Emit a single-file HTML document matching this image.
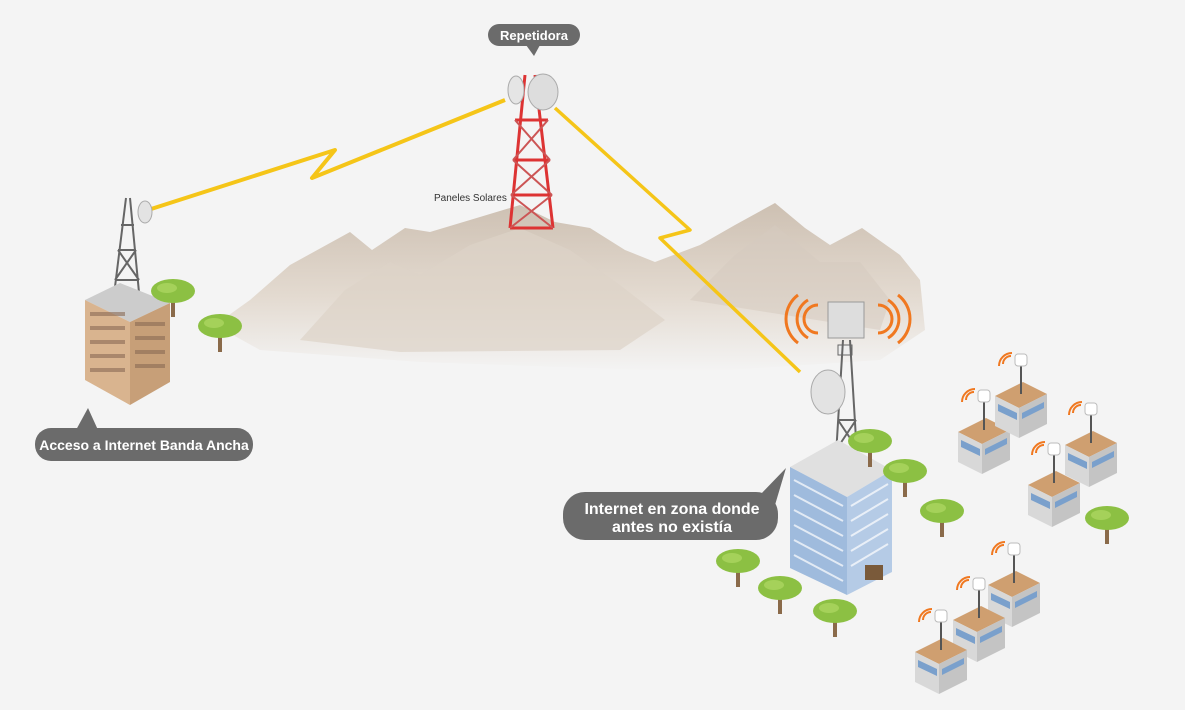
<!DOCTYPE html>
<html><head><meta charset="utf-8"><style>
html,body{margin:0;padding:0;background:#f4f4f4;}
svg{display:block;font-family:"Liberation Sans",sans-serif;}
</style></head><body>
<svg width="1185" height="710" viewBox="0 0 1185 710" xmlns="http://www.w3.org/2000/svg">
<defs>
<linearGradient id="mt" x1="0" y1="0" x2="0" y2="1">
<stop offset="0" stop-color="#cdc0b2"/><stop offset="0.55" stop-color="#e3dad0"/><stop offset="1" stop-color="#f4f4f4"/>
</linearGradient>
<g id="tree">
<path d="M0,0 L0,22" stroke="#8a6a4a" stroke-width="4"/>
<ellipse cx="0" cy="-4" rx="22" ry="12" fill="#8cc043"/>
<ellipse cx="-6" cy="-7" rx="10" ry="5" fill="#a5d15a"/>
</g>
<g id="sb">
<path d="M0,20 L28,6 L52,18 L24,32 Z" fill="#cf9f70"/>
<path d="M0,20 L24,32 L24,62 L0,50 Z" fill="#d8d8d8"/>
<path d="M24,32 L52,18 L52,48 L24,62 Z" fill="#c4c4c4"/>
<path d="M3,28 L22,37 L22,44 L3,35 Z" fill="#7aa0cc"/>
<path d="M27,37 L49,26 L49,32 L27,43 Z" fill="#7aa0cc"/>
<path d="M26,-12 L26,18" stroke="#555" stroke-width="2"/>
<rect x="20" y="-22" width="12" height="12" rx="3" fill="#fff" stroke="#bbb"/>
<path d="M8,-12 a8,8 0 0 1 8,-8 M4,-10 a13,13 0 0 1 13,-13" stroke="#f07820" stroke-width="2" fill="none"/>
</g>
</defs>
<rect width="1185" height="710" fill="#f4f4f4"/>
<!-- mountains -->
<path d="M215,325 L250,300 L290,265 L350,232 L372,250 L405,228 L430,232 L470,220 L520,205 L555,222 L590,228 L625,250 L655,262 L700,245 L735,225 L775,203 L805,228 L830,245 L862,228 L900,255 L920,280 L925,330 L880,360 L700,372 L420,362 L260,350 Z" fill="url(#mt)"/>
<path d="M300,340 L345,290 L390,262 L420,275 L470,245 L520,228 L570,250 L620,285 L665,320 L620,350 L400,352 Z" fill="#ddd3c8" opacity="0.7"/>
<path d="M690,300 L735,255 L775,225 L820,262 L860,262 L890,300 L880,330 Z" fill="#d6cbc0" opacity="0.55"/>
<!-- lightning -->
<polyline points="148,210 335,150 312,178 505,100" fill="none" stroke="#f5c518" stroke-width="4" stroke-linejoin="round"/>
<polyline points="555,108 690,230 660,238 800,372" fill="none" stroke="#f5c518" stroke-width="3.5" stroke-linejoin="round"/>
<!-- red tower -->
<g stroke-width="3" fill="none">
<path d="M525,75 L510,228 M535,75 L553,228" stroke="#d33"/>
<path d="M515,120 L548,120 M513,160 L550,160 M511,195 L552,195 M510,228 L553,228" stroke="#d33"/>
<path d="M515,120 L550,160 M548,120 L513,160 M511,195 L553,228 M552,195 L510,228 M513,160 L552,195 M550,160 L511,195" stroke="#c55" stroke-width="2"/>
</g>
<ellipse cx="543" cy="92" rx="15" ry="18" fill="#ddd" stroke="#aaa"/>
<ellipse cx="516" cy="90" rx="8" ry="14" fill="#e5e5e5" stroke="#aaa"/>
<text x="434" y="201" font-size="10" fill="#333">Paneles Solares</text>
<!-- Repetidora bubble -->
<rect x="488" y="24" width="92" height="22" rx="11" fill="#6b6b6b"/>
<path d="M526,45 L534,56 L540,45 Z" fill="#6b6b6b"/>
<text x="534" y="40" font-size="13" font-weight="bold" fill="#fff" text-anchor="middle">Repetidora</text>
<!-- left tower -->
<g stroke="#666" stroke-width="2" fill="none">
<path d="M126,198 L113,303 M130,198 L140,303 M118,250 L136,250 M115,280 L139,280 M118,250 L139,280 M136,250 L115,280 M121,225 L134,225"/>
</g>
<ellipse cx="145" cy="212" rx="7" ry="11" fill="#e3e3e3" stroke="#aaa"/>
<!-- left building -->
<path d="M85,300 L120,283 L170,303 L130,322 Z" fill="#ccc"/>
<path d="M85,300 L130,322 L130,405 L85,380 Z" fill="#d9b48f"/>
<path d="M130,322 L170,303 L170,382 L130,405 Z" fill="#c79f78"/>
<g fill="#8a6a55" opacity="0.6">
<rect x="90" y="312" width="35" height="4"/><rect x="90" y="326" width="35" height="4"/><rect x="90" y="340" width="35" height="4"/><rect x="90" y="354" width="35" height="4"/><rect x="90" y="368" width="35" height="4"/>
<rect x="135" y="322" width="30" height="4"/><rect x="135" y="336" width="30" height="4"/><rect x="135" y="350" width="30" height="4"/><rect x="135" y="364" width="30" height="4"/>
</g>
<use href="#tree" x="173" y="295"/>
<use href="#tree" x="220" y="330"/>
<!-- left bubble -->
<rect x="35" y="428" width="218" height="33" rx="16" fill="#6b6b6b"/>
<path d="M76,430 L88,408 L98,430 Z" fill="#6b6b6b"/>
<text x="144" y="450" font-size="14" font-weight="bold" fill="#fff" text-anchor="middle">Acceso a Internet Banda Ancha</text>
<!-- orange arcs -->
<g stroke="#f07820" stroke-width="3" fill="none">
<path d="M818,305 a14,14 0 0 0 0,28 M808,300 a22,22 0 0 0 0,38 M798,295 a30,30 0 0 0 0,48"/>
<path d="M878,305 a14,14 0 0 1 0,28 M888,300 a22,22 0 0 1 0,38 M898,295 a30,30 0 0 1 0,48"/>
</g>
<!-- blue building tower -->
<rect x="828" y="302" width="36" height="36" fill="#ddd" stroke="#999"/>
<rect x="838" y="345" width="14" height="10" fill="#eee" stroke="#666"/>
<g stroke="#666" stroke-width="2" fill="none">
<path d="M843,340 L835,472 M850,340 L858,472 M838,420 L856,420 M836,450 L858,450 M838,420 L858,450 M856,420 L836,450"/>
</g>
<ellipse cx="828" cy="392" rx="17" ry="22" fill="#e3e3e3" stroke="#aaa"/>
<!-- blue building -->
<path d="M790,467 L838,440 L892,470 L847,497 Z" fill="#e0e0e0"/>
<path d="M790,467 L847,497 L847,595 L790,568 Z" fill="#9fbbdd"/>
<path d="M847,497 L892,470 L892,572 L847,595 Z" fill="#b5cbe6"/>
<g stroke="#fff" stroke-width="2" opacity="0.7">
<path d="M794,480 L843,506 M794,495 L843,521 M794,510 L843,536 M794,525 L843,551 M794,540 L843,566 M794,555 L843,581"/>
<path d="M851,506 L888,484 M851,521 L888,499 M851,536 L888,514 M851,551 L888,529 M851,566 L888,544"/>
</g>
<rect x="865" y="565" width="18" height="15" fill="#7a5a3a"/>
<!-- trees right -->
<use href="#tree" x="870" y="445"/>
<use href="#tree" x="905" y="475"/>
<use href="#tree" x="942" y="515"/>
<use href="#tree" x="738" y="565"/>
<use href="#tree" x="780" y="592"/>
<use href="#tree" x="835" y="615"/>
<use href="#tree" x="1107" y="522"/>
<!-- small buildings -->
<use href="#sb" x="958" y="412"/>
<use href="#sb" x="995" y="376"/>
<use href="#sb" x="1065" y="425"/>
<use href="#sb" x="1028" y="465"/>
<use href="#sb" x="988" y="565"/>
<use href="#sb" x="953" y="600"/>
<use href="#sb" x="915" y="632"/>
<!-- right bubble -->
<rect x="563" y="492" width="215" height="48" rx="22" fill="#6b6b6b"/>
<path d="M760,495 L786,468 L775,505 Z" fill="#6b6b6b"/>
<text x="672" y="514" font-size="16" font-weight="bold" fill="#fff" text-anchor="middle">Internet en zona donde</text>
<text x="672" y="532" font-size="16" font-weight="bold" fill="#fff" text-anchor="middle">antes no existía</text>
</svg>
</body></html>
